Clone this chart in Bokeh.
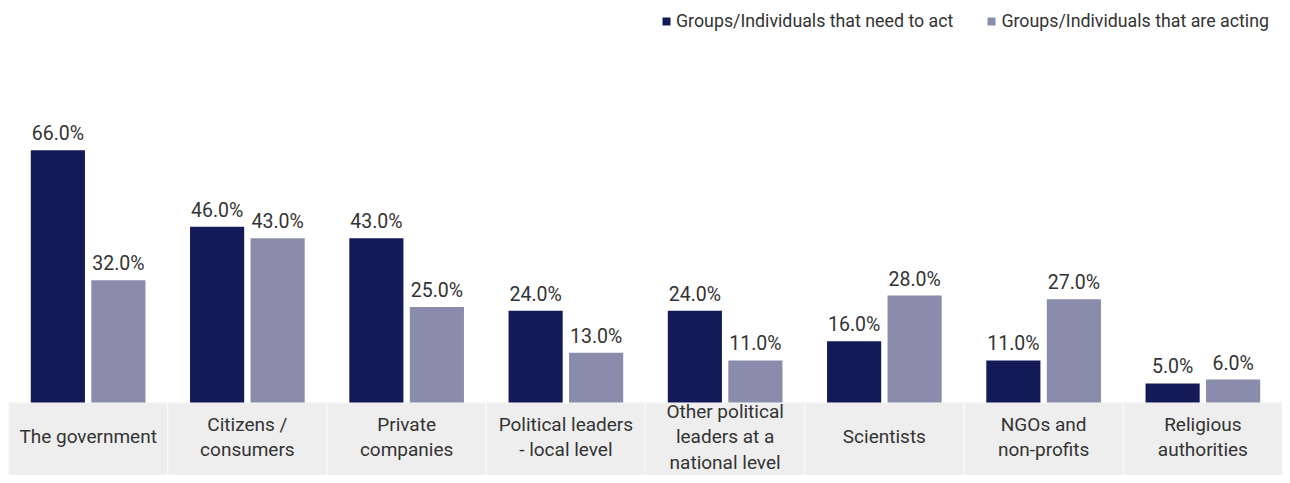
from bokeh.plotting import figure
from bokeh.models import ColumnDataSource, FactorRange, Legend, LegendItem
from bokeh.transform import dodge
from bokeh.core.properties import value
from bokeh.embed import file_html
from bokeh.resources import INLINE

categories = ["The government", "Citizens / consumers", "Private companies",
              "Political leaders - local level", "Other political leaders at a national level",
              "Scientists", "NGOs and non-profits", "Religious authorities"]
cat_labels = ["The government", "Citizens /\nconsumers", "Private\ncompanies",
              "Political leaders\n- local level", "Other political\nleaders at a\nnational level",
              "Scientists", "NGOs and\nnon-profits", "Religious\nauthorities"]
need_to_act = [66.0, 46.0, 43.0, 24.0, 24.0, 16.0, 11.0, 5.0]
are_acting = [32.0, 43.0, 25.0, 13.0, 11.0, 28.0, 27.0, 6.0]
series_names = ["Groups/Individuals that need to act", "Groups/Individuals that are acting"]

DARK = "#141a58"
LIGHT = "#898cab"
TXT = "#333333"
FONT = "Roboto"

Y_MIN = -19.1
Y_MAX = 105.2

src = ColumnDataSource(dict(
    cat=categories, lab=cat_labels, need=need_to_act, act=are_acting,
    need_t=[f"{v:.1f}%" for v in need_to_act], act_t=[f"{v:.1f}%" for v in are_acting],
    band_bottom=[Y_MIN - 5] * len(categories), band_top=[0] * len(categories),
    lab_y=[-9.0] * len(categories),
))

p = figure(x_range=FactorRange(*categories, range_padding=0), y_range=(Y_MIN, Y_MAX),
           width=1282, height=475, output_backend="svg", toolbar_location=None,
           min_border=0, min_border_left=8, outline_line_color=None)
p.axis.visible = False
p.grid.visible = False
p.background_fill_color = "white"
p.border_fill_color = "white"

# category band
p.vbar(x="cat", width=1, bottom="band_bottom", top="band_top", source=src,
       fill_color="#eeeeee", line_color="#f8f8f8", line_width=1.5)

r1 = p.vbar(x=dodge("cat", -0.19, range=p.x_range), top="need", width=0.34, source=src,
            fill_color=DARK, line_color=None)
r2 = p.vbar(x=dodge("cat", 0.19, range=p.x_range), top="act", width=0.34, source=src,
            fill_color=LIGHT, line_color=None)

p.text(x=dodge("cat", -0.19, range=p.x_range), y="need", text="need_t", source=src,
       text_align="center", text_baseline="bottom", y_offset=-5,
       text_font=value(FONT), text_font_size="19.5px", text_color=TXT)
p.text(x=dodge("cat", 0.19, range=p.x_range), y="act", text="act_t", source=src,
       text_align="center", text_baseline="bottom", y_offset=-5,
       text_font=value(FONT), text_font_size="19.5px", text_color=TXT)

p.text(x="cat", y="lab_y", text="lab", source=src, text_align="center",
       text_baseline="middle", text_line_height=1.1,
       text_font=value(FONT), text_font_size="19px", text_color=TXT)

legend = Legend(items=[LegendItem(label=series_names[0], renderers=[r1]),
                       LegendItem(label=series_names[1], renderers=[r2])],
                orientation="horizontal", location=(653, 444), padding=0, margin=0,
                spacing=33, glyph_width=10, glyph_height=10, label_standoff=5,
                label_text_font=FONT, label_text_font_size="17.8px", label_text_color=TXT,
                border_line_alpha=0, background_fill_alpha=0)
p.add_layout(legend)

open("out.html", "w").write(file_html(p, INLINE))
